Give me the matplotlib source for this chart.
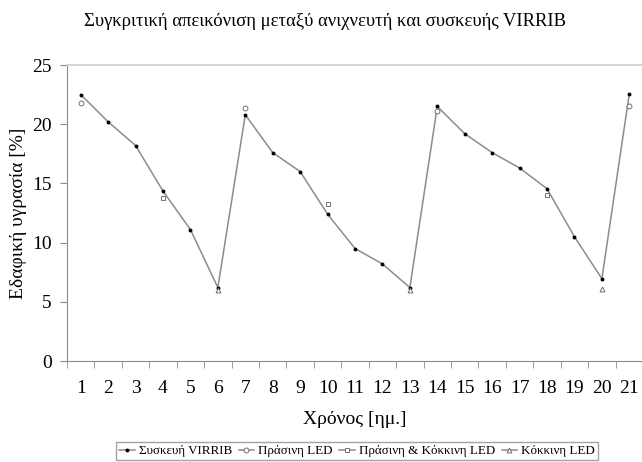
import matplotlib
matplotlib.use('Agg')
import matplotlib.pyplot as plt
import numpy as np

plt.rcParams['font.family'] = ['Liberation Serif', 'DejaVu Serif']

days = list(range(1, 22))
virrib = [22.5, 20.2, 18.2, 14.35, 11.1, 6.2, 20.8, 17.6, 16.0, 12.4, 9.5,
          8.2, 6.2, 21.5, 19.2, 17.6, 16.3, 14.55, 10.5, 6.95, 22.55]
green_days = [1, 7, 14, 21]
green = [21.8, 21.4, 21.1, 21.5]
green_red_days = [4, 10, 18]
green_red = [13.8, 13.3, 14.0]
red_days = [6, 13, 20]
red = [6.0, 6.0, 6.05]


def spread(d, v):
    # put values on the full day axis, gaps stay NaN
    out = np.full(len(days), np.nan)
    for k, val in zip(d, v):
        out[k - 1] = val
    return out


fig = plt.figure(figsize=(6.42, 4.62), dpi=100)
ax = fig.add_axes([67 / 642, 1 - 361 / 462, 576 / 642, 296 / 462])

grey = '#8c8c8c'
ax.plot(days, virrib, '-', color=grey, lw=1.1, marker='o', ms=1.8,
        mfc='black', mec='black', label='Συσκευή VIRRIB')
ax.plot(days, spread(green_days, green), '-', color=grey, lw=1.1, marker='o',
        ms=3.5, mfc='white', mec='#707070', mew=0.7, label='Πράσινη LED')
ax.plot(days, spread(green_red_days, green_red), '-', color=grey, lw=1.1,
        marker='s', ms=3.5, mfc='white', mec='#707070', mew=0.7,
        label='Πράσινη & Κόκκινη LED')
ax.plot(days, spread(red_days, red), '-', color=grey, lw=1.1, marker='^',
        ms=3.5, mfc='white', mec='#707070', mew=0.7, label='Κόκκινη LED')

ax.set_xlim(0.5, 21.5)
ax.set_ylim(0, 25)
ax.set_yticks([0, 5, 10, 15, 20, 25])
ax.set_xticks(days)
ax.set_xticks(np.arange(0.5, 22, 1), minor=True)
ax.tick_params(axis='x', which='major', length=0, pad=14, labelsize=14)
ax.tick_params(axis='x', which='minor', length=5, color=grey, direction='out')
ax.tick_params(axis='y', length=5, color=grey, labelsize=14, pad=6)

ax.spines['right'].set_visible(False)
for s in ['left', 'bottom']:
    ax.spines[s].set_color(grey)
ax.spines['top'].set_color('#d0d0d0')
ax.spines['top'].set_linewidth(1.2)

ax.set_xlabel('Χρόνος [ημ.]', fontsize=14, labelpad=10)
ax.set_ylabel('Εδαφική υγρασία [%]', fontsize=14, labelpad=4)
fig.text(325 / 642, 1 - 22 / 462,
         'Συγκριτική απεικόνιση μεταξύ ανιχνευτή και συσκευής VIRRIB',
         ha='center', va='center', fontsize=13.4)

leg = fig.legend(loc='center', bbox_to_anchor=(357 / 642, 1 - 451 / 462),
                 ncol=4, fontsize=9.4, frameon=True, fancybox=False,
                 handlelength=1.2, handletextpad=0.3, columnspacing=0.5,
                 borderpad=0.25, borderaxespad=0)
leg.get_frame().set_edgecolor(grey)
leg.get_frame().set_linewidth(1.0)

fig.savefig('out.png', dpi=100)
